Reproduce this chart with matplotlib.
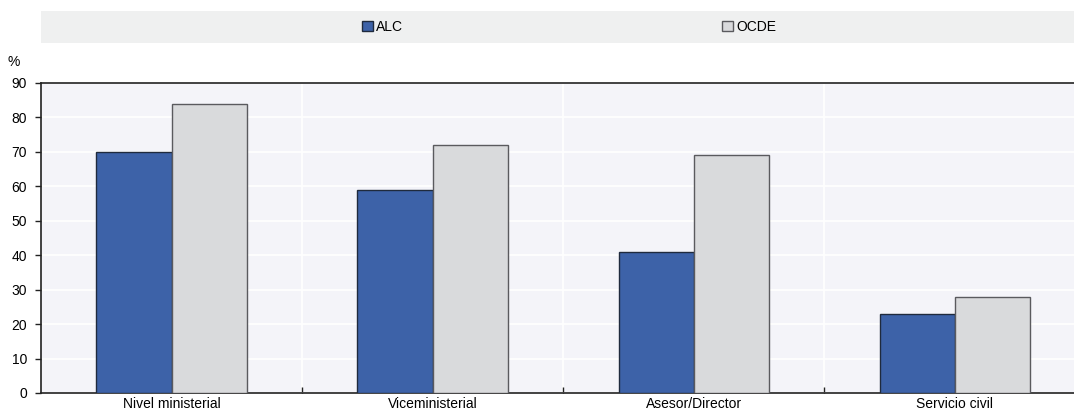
import numpy as np
from matplotlib import pyplot as plt

plt.rcParams['font.family'] = ['Liberation Sans', 'DejaVu Sans']

categorias = ["Nivel ministerial", "Viceministerial", "Asesor/Director", "Servicio civil"]
alc = [70, 59, 41, 23]
ocde = [84, 72, 69, 28]

fig = plt.figure(figsize=(10.74, 4.12), dpi=100)
ax = fig.add_axes([41/1074, 19/412, 1 - 41/1074, 310/412])
ax.set_facecolor("#f4f4f9")

x = np.arange(len(categorias))
ancho = 0.288
ax.bar(x - ancho/2, alc, ancho, color="#3d62a8", edgecolor="#1f2a3d", linewidth=1, zorder=3, label="ALC")
ax.bar(x + ancho/2, ocde, ancho, color="#d9dadc", edgecolor="#5a5a5e", linewidth=1, zorder=3, label="OCDE")

ax.set_xlim(-0.5, 3.456)
ax.set_ylim(0, 90)
ax.set_yticks(range(0, 91, 10))
ax.set_xticks(x)
ax.set_xticklabels(categorias, fontsize=10)
ax.set_xticks([0.5, 1.5, 2.5], minor=True)
ax.tick_params(axis="x", which="major", length=0, pad=3)
ax.tick_params(axis="x", which="minor", direction="in", length=4, width=1, color="#222222")
ax.tick_params(axis="y", length=4, width=1, color="#222222", labelsize=10, pad=6)
ax.grid(axis="y", color="white", linewidth=1.2, zorder=0)
ax.grid(axis="x", which="minor", color="white", linewidth=1.2, zorder=0)
ax.spines["right"].set_visible(False)
for s in ["left", "bottom", "top"]:
    ax.spines[s].set_color("#222222")
    ax.spines[s].set_linewidth(1.2)

fig.text(8/1074, 1 - 62/412, "%", fontsize=10, va="center", ha="left")

# banda de la leyenda
banda = fig.add_axes([41/1074, 1 - 43/412, 1 - 41/1074, 32/412])
banda.set_facecolor("#eff0f0")
banda.set_xticks([])
banda.set_yticks([])
for s in banda.spines.values():
    s.set_visible(False)
h, l = ax.get_legend_handles_labels()
leg = banda.legend(h, l, loc="center", ncol=2, frameon=False, fontsize=10,
                   handlelength=0.8, handleheight=0.8, handletextpad=0.2,
                   columnspacing=23, borderaxespad=0)
leg.set_bbox_to_anchor((0.511, 0.5))

plt.savefig("out.png", dpi=100)
